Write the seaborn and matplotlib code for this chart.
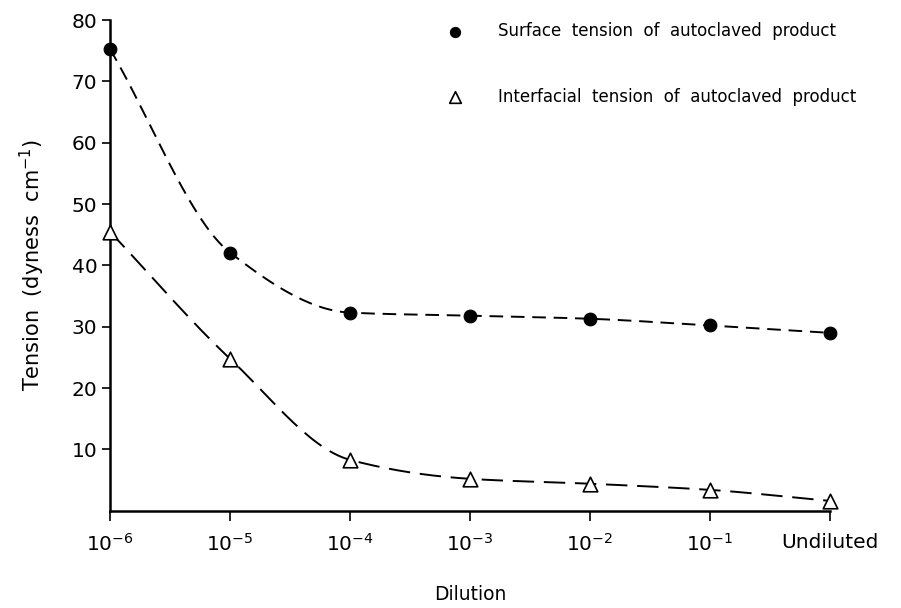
import numpy as np
import pandas as pd
import matplotlib
matplotlib.use("Agg")
import matplotlib.pyplot as plt
import seaborn as sns

# dados
diluicoes = ["$10^{-6}$", "$10^{-5}$", "$10^{-4}$", "$10^{-3}$", "$10^{-2}$", "$10^{-1}$", "Undiluted"]
tensao_superficial = [75.3, 42.1, 32.3, 31.8, 31.3, 30.2, 29.0]
tensao_interfacial = [45.5, 24.8, 8.3, 5.2, 4.4, 3.4, 1.6]
y_ticks = [10, 20, 30, 40, 50, 60, 70, 80]


def curva_suave(x, y, n=30):
    # interpolacao cubica monotona (Fritsch-Carlson) so para desenhar a curva
    x = np.asarray(x, float)
    y = np.asarray(y, float)
    h = np.diff(x)
    d = np.diff(y) / h
    m = np.zeros_like(y)
    m[0], m[-1] = d[0], d[-1]
    for i in range(1, len(y) - 1):
        if d[i - 1] * d[i] > 0:
            m[i] = 2 / (1 / d[i - 1] + 1 / d[i])
    xs, ys = [], []
    for i in range(len(h)):
        t = np.linspace(0, 1, n, endpoint=False)
        h00 = 2 * t**3 - 3 * t**2 + 1
        h10 = t**3 - 2 * t**2 + t
        h01 = -2 * t**3 + 3 * t**2
        h11 = t**3 - t**2
        xs.append(x[i] + t * h[i])
        ys.append(h00 * y[i] + h10 * h[i] * m[i] + h01 * y[i + 1] + h11 * h[i] * m[i + 1])
    xs.append([x[-1]])
    ys.append([y[-1]])
    return np.concatenate(xs), np.concatenate(ys)


pos = np.arange(len(diluicoes))
df = pd.DataFrame({"pos": pos, "sup": tensao_superficial, "inter": tensao_interfacial})

sns.set_style("ticks")
plt.rcParams["font.family"] = ["DejaVu Sans"]
plt.rcParams["text.color"] = "black"
plt.rcParams["axes.labelcolor"] = "black"
plt.rcParams["xtick.color"] = "black"
plt.rcParams["ytick.color"] = "black"
plt.rcParams["axes.edgecolor"] = "black"

fig = plt.figure(figsize=(9.01, 6.08), dpi=100)
ax = fig.add_axes([0.122, 0.16, 0.799, 0.807])

xs, ys = curva_suave(pos, tensao_superficial)
ax.plot(xs, ys, color="black", lw=1.4, dashes=(7, 4))
xs, ys = curva_suave(pos, tensao_interfacial)
ax.plot(xs, ys, color="black", lw=1.4, dashes=(11, 5))

sns.scatterplot(data=df, x="pos", y="sup", ax=ax, marker="o", s=85, color="black",
                edgecolor="black", zorder=3, clip_on=False,
                label="Surface  tension  of  autoclaved  product")
sns.scatterplot(data=df, x="pos", y="inter", ax=ax, marker="^", s=110, facecolor="white",
                edgecolor="black", linewidth=1.2, zorder=3, clip_on=False,
                label="Interfacial  tension  of  autoclaved  product")

ax.set_xlim(0, 6)
ax.set_ylim(0, 80)
ax.set_xticks(pos)
ax.set_xticklabels(diluicoes, fontsize=14.5)
ax.set_yticks(y_ticks)
ax.tick_params(axis="y", labelsize=14.5, length=6, width=1.2, pad=3)
ax.tick_params(axis="x", length=7, width=1.2, pad=9)
sns.despine(ax=ax)
for s in ["left", "bottom"]:
    ax.spines[s].set_linewidth(1.8)

ax.set_xlabel("Dilution", fontsize=13.5, labelpad=22)
ax.set_ylabel("Tension  (dyness  cm$^{-1}$)", fontsize=15, labelpad=18)

leg = ax.legend(loc="upper left", bbox_to_anchor=(0.435, 1.026), frameon=False,
                fontsize=12, labelspacing=2.85, handletextpad=1.6, markerscale=0.8)

fig.savefig("out.png", dpi=100)
